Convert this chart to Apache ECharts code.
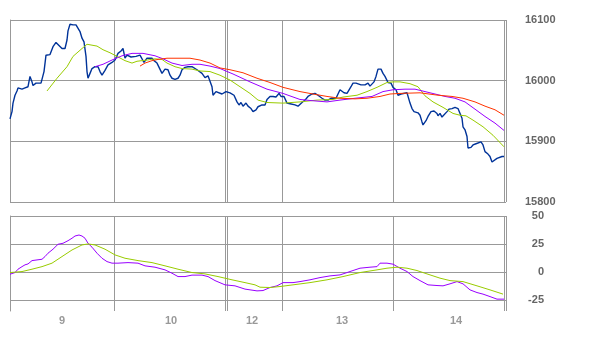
<!DOCTYPE html>
<html><head><meta charset="utf-8">
<script src="https://cdn.jsdelivr.net/npm/echarts@6/dist/echarts.min.js"></script>
<style>html,body{margin:0;padding:0;background:#fff}#c{width:600px;height:340px}</style>
</head><body><div id="c"></div>
<script>
// time unit: bar position across the session; day boundaries & labels
const dayBreaks = [0,104,215,217,272,383,494,496];
const dayLabels = ['9','10','12','13','14'];
const dayLabelAt = [52,161,242,332,446];
const priceTicks = [15800,15900,16000,16100];
const oscTicks = [-25,0,25,50];

const priceT = [0,2,3,5,7,8,10,12,13,15,17,18,20,22,23,26,28,31,33,34,36,38,40,42,43,46,48,49,52,53,55,57,58,60,62,63,66,68,70,72,74,76,77,78,80,82,83,85,88,90,92,95,97,98,102,105,108,111,113,115,117,118,121,123,126,128,130,132,134,137,139,142,144,147,149,152,153,155,158,160,162,165,168,170,172,175,178,180,182,184,187,189,192,195,198,200,202,203,206,208,212,214,216,218,220,222,224,227,229,231,233,236,238,241,243,246,248,250,252,255,257,260,263,266,268,269,271,272,274,277,280,282,285,288,292,295,298,302,305,308,312,315,318,321,323,326,328,330,332,334,337,339,341,343,346,348,351,353,355,358,360,362,364,366,368,371,373,375,377,378,381,383,386,388,391,393,397,398,400,402,404,408,410,412,413,416,418,421,424,427,428,430,432,434,437,439,442,445,448,450,452,453,455,457,458,461,463,466,468,471,473,475,478,480,482,484,487,489,492,494];
const priceV = [15937,15949,15963,15976,15983,15988,15990,15986,15987,15988,15985,15990,16007,15998,15992,15996,15998,15996,15994,16015,16042,16041,16043,16040,16056,16063,16062,16058,16053,16056,16053,16067,16082,16093,16096,16092,16092,16089,16081,16070,16064,16040,16015,16004,16012,16020,16023,16023,16023,16015,16009,16017,16020,16026,16030,16034,16045,16049,16053,16037,16042,16040,16039,16042,16040,16039,16042,16039,16030,16037,16034,16037,16033,16029,16031,16012,16015,16019,16018,16009,16004,16002,16004,16009,16018,16022,16023,16022,16023,16020,16018,16019,16012,16005,16008,16011,15990,15976,15982,15980,15978,15976,15982,15985,15980,15983,15976,15965,15960,15964,15958,15963,15958,15954,15949,15952,15957,15954,15960,15960,15969,15974,15974,15973,15975,15979,15974,15976,15974,15963,15962,15960,15960,15958,15964,15968,15974,15978,15979,15976,15971,15968,15968,15971,15973,15971,15974,15985,15986,15980,15979,15980,15990,15996,15996,15996,15993,15990,15993,15996,15991,15994,15998,16007,16019,16019,16012,16007,16006,15997,15996,15989,15985,15976,15978,15980,15980,15980,15963,15954,15949,15947,15943,15932,15927,15934,15941,15949,15950,15946,15942,15946,15940,15943,15949,15953,15954,15956,15954,15952,15938,15924,15919,15908,15889,15890,15894,15896,15898,15899,15894,15883,15879,15875,15866,15869,15872,15870,15875,15875];

const maShortT = [37,47,57,63,72,77,87,93,100,107,115,122,127,137,145,152,157,165,172,182,190,200,210,220,230,240,248,257,273,290,307,323,333,347,357,367,377,383,390,400,408,415,423,433,443,450,456,463,473,483,494];
const maShortV = [15983,16004,16023,16040,16053,16060,16057,16051,16046,16040,16033,16029,16032,16034,16036,16035,16029,16023,16020,16019,16016,16015,16009,16001,15990,15979,15968,15964,15963,15965,15968,15969,15973,15976,15982,15989,15997,15998,15998,15995,15990,15975,15965,15956,15946,15943,15942,15935,15924,15910,15891];

const maMidT = [85,93,102,112,122,133,145,153,162,172,182,190,200,210,223,240,257,273,290,302,317,330,345,362,373,383,395,405,415,425,435,445,455,465,475,485,494];
const maMidV = [16023,16027,16034,16041,16045,16045,16041,16036,16029,16025,16027,16027,16024,16020,16011,15998,15986,15979,15969,15967,15965,15968,15971,15974,15982,15985,15986,15986,15982,15978,15974,15971,15965,15953,15941,15930,15918];

const maLongT = [130,135,142,148,157,180,190,200,210,220,233,247,260,273,290,303,317,330,345,357,370,380,390,410,428,442,453,465,475,485,494];
const maLongV = [16024,16029,16033,16035,16037,16037,16034,16029,16021,16018,16013,16004,15997,15989,15982,15978,15974,15971,15970,15971,15974,15978,15979,15980,15976,15974,15971,15965,15958,15952,15943];

const oscAT = [0,5,8,12,15,18,22,27,32,35,38,43,48,53,58,62,65,69,72,75,78,82,87,92,97,102,108,118,128,135,145,155,162,168,175,182,192,198,205,215,225,235,247,253,260,267,273,283,290,300,310,320,330,337,343,350,360,367,370,377,383,390,397,403,410,418,427,433,440,447,453,460,467,473,480,487,494];
const oscAV = [-2.1,-0.6,2.4,4.7,6.3,7.1,10.1,10.7,11.3,13.7,16.7,20.3,24.7,25.6,27.9,30.1,32.1,33.0,32.1,30.1,25.6,22.1,16.7,12.2,9.2,7.8,7.8,8.3,7.8,5.4,4.2,1.8,-1.2,-4.2,-4.2,-2.9,-2.9,-4.2,-7.8,-11.6,-12.5,-15.4,-17.0,-16.7,-14.0,-12.5,-9.6,-9.6,-8.7,-7.1,-5.1,-3.6,-2.7,-0.6,1.2,3.3,4.2,4.7,7.8,7.8,6.9,3.3,0.3,-4.2,-7.8,-11.6,-12.2,-12.5,-10.7,-8.7,-10.7,-16.1,-18.5,-19.9,-22.1,-24.4,-24.4];

const oscBT = [0,12,22,32,42,52,62,72,78,85,95,105,115,128,142,155,168,182,195,208,222,235,245,250,260,270,283,300,317,333,350,367,377,387,397,407,417,430,440,453,467,480,493];
const oscBV = [-0.6,0.3,2.4,4.7,7.8,13.7,19.6,24.1,25.0,24.1,20.3,15.2,12.2,10.1,8.3,5.4,2.4,-0.6,-1.8,-4.2,-7.1,-9.6,-11.6,-13.7,-14.0,-13.1,-11.6,-9.6,-7.1,-4.2,-0.6,1.8,3.3,4.2,3.3,1.2,-1.8,-5.6,-7.8,-8.7,-12.5,-16.1,-19.9];

const GRID = '#999999';
const pairs = (t, v) => t.map((x, i) => [x, v[i]]);
const lineSeries = (name, t, v, color, width, xi, yi) => ({
  name, type: 'line', xAxisIndex: xi, yAxisIndex: yi, data: pairs(t, v),
  showSymbol: false, symbol: 'none', silent: true,
  lineStyle: { color, width }
});

const chart = echarts.init(document.getElementById('c'), null, { renderer: 'canvas' });
const xBase = (idx, showLabels) => ({
  type: 'value', gridIndex: idx, min: 0, max: 496,
  axisLine: { show: false },
  axisTick: { show: false, customValues: dayBreaks },
  splitLine: { show: true, lineStyle: { color: GRID, width: 1 } },
  axisLabel: showLabels ? {
    show: true, customValues: dayLabelAt, margin: 4,
    formatter: v => dayLabels[dayLabelAt.indexOf(v)],
    color: '#999', fontWeight: 'bold', fontSize: 11, fontFamily: 'Liberation Sans, Arial'
  } : { show: false }
});

chart.setOption({
  animation: false,
  backgroundColor: '#fff',
  grid: [
    { left: 10, right: 94, top: 20, height: 182 },
    { left: 10, right: 94, top: 216, height: 95 }
  ],
  xAxis: [xBase(0, false), xBase(1, true)],
  yAxis: [
    {
      type: 'value', gridIndex: 0, position: 'right', min: 15800, max: 16100, interval: 100,
      axisLine: { show: true, lineStyle: { color: GRID } },
      axisTick: { show: true, length: 6, customValues: priceTicks, lineStyle: { color: GRID } },
      splitLine: { show: true, lineStyle: { color: GRID } },
      axisLabel: { customValues: priceTicks, formatter: v => String(v), margin: 19, color: '#666', fontWeight: 'bold', fontSize: 11, fontFamily: 'Liberation Sans, Arial' }
    },
    {
      type: 'value', gridIndex: 1, position: 'right', min: -35, max: 50,
      axisLine: { show: true, lineStyle: { color: GRID } },
      axisTick: { show: true, length: 6, customValues: oscTicks, lineStyle: { color: GRID } },
      splitLine: { show: true, lineStyle: { color: GRID } },
      axisLabel: { customValues: oscTicks, formatter: v => String(v), margin: 38, align: 'right', color: '#666', fontWeight: 'bold', fontSize: 11, fontFamily: 'Liberation Sans, Arial' }
    }
  ],
  series: [
    lineSeries('price', priceT, priceV, '#003399', 1.4, 0, 0),
    lineSeries('maShort', maShortT, maShortV, '#99cc00', 1, 0, 0),
    lineSeries('maMid', maMidT, maMidV, '#9900ff', 1, 0, 0),
    lineSeries('maLong', maLongT, maLongV, '#ff3300', 1, 0, 0),
    lineSeries('oscA', oscAT, oscAV, '#9900ff', 1, 1, 1),
    lineSeries('oscB', oscBT, oscBV, '#99cc00', 1, 1, 1)
  ]
});
</script></body></html>
